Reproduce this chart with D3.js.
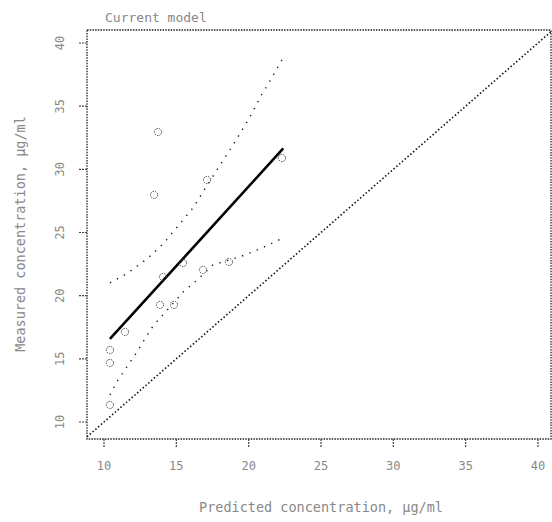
<!DOCTYPE html>
<html>
<head>
<meta charset="utf-8">
<script src="https://cdn.jsdelivr.net/npm/d3@7"></script>
<style>
  body { margin: 0; background: #fff; }
  text { font-family: "DejaVu Sans Mono", monospace; fill: #888; }
</style>
</head>
<body>
<div id="chart"></div>
<script>
// predicted vs measured (open circles)
var predicted = [13.73, 13.46, 17.12, 22.30, 14.08, 15.46, 16.84, 18.64, 13.87, 14.84, 11.45, 10.41, 10.41, 10.41];
var measured  = [32.96, 27.98, 29.16, 30.90, 21.48, 22.59, 22.04, 22.67, 19.27, 19.27, 17.13, 15.70, 14.67, 11.35];

// fitted line end points
var fitX = [10.41, 22.39];
var fitY = [16.57, 31.65];

// confidence band
var upperX = [10.41, 11.66, 13.04, 14.08, 16.15, 17.67, 18.92, 20.09, 20.85, 21.47, 22.30];
var upperY = [21.01, 21.80, 22.98, 24.09, 26.94, 29.71, 31.93, 34.15, 35.81, 37.00, 38.66];
var lowerX = [10.41, 10.97, 12.28, 13.04, 13.39, 15.60, 16.15, 17.53, 19.54, 20.78, 22.23];
var lowerY = [12.14, 13.33, 15.54, 16.97, 17.60, 20.45, 20.93, 22.43, 23.14, 23.70, 24.49];

var xTicks = [10, 15, 20, 25, 30, 35, 40];
var yTicks = [10, 15, 20, 25, 30, 35, 40];

var width = 552, height = 522;
var pLeft = 87, pRight = 551, pTop = 30, pBottom = 439;

var svg = d3.select("#chart").append("svg")
    .attr("width", width)
    .attr("height", height);

var x = d3.scaleLinear().domain([8.825, 40.9]).range([pLeft, pRight]);
var y = d3.scaleLinear().domain([8.654, 41.03]).range([pBottom, pTop]);

svg.append("clipPath").attr("id", "clip")
  .append("rect").attr("x", pLeft).attr("y", pTop)
  .attr("width", pRight - pLeft).attr("height", pBottom - pTop);

// frame
svg.append("rect")
    .attr("x", pLeft).attr("y", pTop)
    .attr("width", pRight - pLeft).attr("height", pBottom - pTop)
    .attr("fill", "none")
    .attr("stroke", "#222")
    .attr("stroke-width", 1.3)
    .attr("stroke-dasharray", "1.5,1.2");

var plot = svg.append("g").attr("clip-path", "url(#clip)");

// identity line y = x
var idExt = x.domain();
plot.append("line")
    .attr("x1", x(idExt[0])).attr("y1", y(idExt[0]))
    .attr("x2", x(idExt[1])).attr("y2", y(idExt[1]))
    .attr("stroke", "#111")
    .attr("stroke-width", 1.6)
    .attr("stroke-dasharray", "1.5,2.2");

var line = d3.line().x(function(d){ return x(d[0]); }).y(function(d){ return y(d[1]); });

// confidence band
plot.append("path")
    .attr("d", line(d3.zip(upperX, upperY)))
    .attr("fill", "none").attr("stroke", "#222")
    .attr("stroke-width", 1.4).attr("stroke-dasharray", "1.4,6.5");
plot.append("path")
    .attr("d", line(d3.zip(lowerX, lowerY)))
    .attr("fill", "none").attr("stroke", "#222")
    .attr("stroke-width", 1.4).attr("stroke-dasharray", "1.4,6.5");

// fit line
plot.append("path")
    .attr("d", line(d3.zip(fitX, fitY)))
    .attr("fill", "none").attr("stroke", "#000")
    .attr("stroke-width", 2.6);

// points
plot.selectAll("circle.pt")
    .data(d3.zip(predicted, measured))
    .enter().append("circle")
    .attr("class", "pt")
    .attr("cx", function(d){ return x(d[0]); })
    .attr("cy", function(d){ return y(d[1]); })
    .attr("r", 3.6)
    .attr("fill", "none")
    .attr("stroke", "#444")
    .attr("stroke-width", 1)
    .attr("stroke-dasharray", "1.5,1");

// x ticks
var xt = svg.selectAll("g.xt").data(xTicks).enter().append("g")
    .attr("transform", function(d){ return "translate(" + x(d) + "," + pBottom + ")"; });
xt.append("line").attr("y1", 0).attr("y2", 8)
    .attr("stroke", "#444").attr("stroke-width", 1.2).attr("stroke-dasharray", "2,1");
xt.append("text").attr("y", 31).attr("text-anchor", "middle")
    .attr("font-size", 12).text(function(d){ return d; });

// y ticks
var yt = svg.selectAll("g.yt").data(yTicks).enter().append("g")
    .attr("transform", function(d){ return "translate(" + pLeft + "," + y(d) + ")"; });
yt.append("line").attr("x1", 0).attr("x2", -9)
    .attr("stroke", "#444").attr("stroke-width", 1.2).attr("stroke-dasharray", "2,1");
yt.append("text")
    .attr("transform", "translate(-27,0) rotate(-90)")
    .attr("text-anchor", "middle").attr("dy", "0.35em")
    .attr("font-size", 12).text(function(d){ return d; });

// titles
svg.append("text").attr("x", 105).attr("y", 22)
    .attr("font-size", 13).text("Current model");

svg.append("text").attr("x", 321).attr("y", 512)
    .attr("text-anchor", "middle").attr("font-size", 13.5)
    .text("Predicted concentration, \u00b5g/ml");

svg.append("text")
    .attr("transform", "translate(20,234) rotate(-90)")
    .attr("text-anchor", "middle").attr("dy", "0.35em").attr("font-size", 13.5)
    .text("Measured concentration, \u00b5g/ml");
</script>
</body>
</html>
